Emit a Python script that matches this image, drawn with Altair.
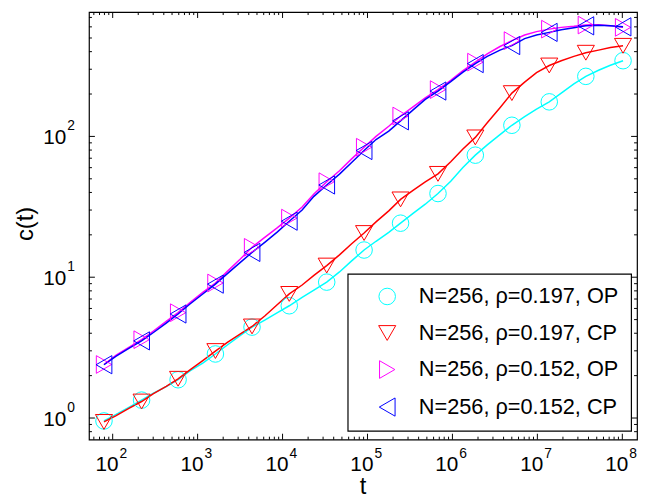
import altair as alt
import pandas as pd

# ---------------- data ----------------
t = [79, 110, 155, 219, 302, 427, 589, 813, 1150, 1620, 2240, 3160, 4370, 6170, 8710,
     12000, 17000, 23400, 33100, 46800, 64600, 91200, 126000, 178000, 245000, 347000,
     479000, 676000, 955000, 1.32e6, 1.86e6, 2.57e6, 3.63e6, 5.01e6, 7.08e6, 9.77e6,
     1.38e7, 1.91e7, 2.69e7, 3.72e7, 5.25e7, 7.24e7, 1.02e8]

op_197 = [0.953, 1.06, 1.19, 1.34, 1.50, 1.67, 1.87, 2.16, 2.45, 2.85, 3.30, 3.85, 4.42,
          4.95, 5.6, 6.27, 7.2, 8.1, 9.23, 10.9, 13.0, 15.6, 18.0, 20.8, 24.2, 28.5, 33.0,
          39.3, 48, 60, 73.6, 87, 103, 120, 138, 156, 176, 203, 236, 267, 295, 320, 345]
cp_197 = [0.938, 1.04, 1.17, 1.31, 1.49, 1.68, 1.90, 2.20, 2.56, 2.99, 3.45, 3.95, 4.47,
          5.3, 6.4, 7.61, 8.8, 10.3, 12.1, 14.4, 17.2, 20.6, 24.7, 29.6, 35.7, 41.5, 47.5,
          54.2, 66, 81, 98.4, 125, 160, 203, 243, 284, 319, 345, 370, 393, 410, 428, 440]
op_152 = [2.40, 2.80, 3.18, 3.60, 4.15, 4.85, 5.60, 6.6, 7.8, 9.1, 11.0, 13.4, 16.3, 19.2,
          22.5, 26.3, 31.5, 39, 47.7, 57, 69, 83.8, 100, 118, 139.6, 163, 188, 215, 250,
          292, 337, 385, 435, 479, 525, 555, 578, 595, 605, 618, 622, 612, 595]
cp_152 = [2.39, 2.75, 3.12, 3.53, 4.05, 4.72, 5.48, 6.45, 7.6, 8.93, 10.6, 12.7, 15.0, 17.7,
          21.0, 25.0, 30.0, 37.5, 45.2, 54, 65, 79.4, 95, 109, 129, 155, 183, 210, 245, 285,
          329, 370, 410, 442, 495, 525, 548, 572, 592, 610, 615, 612, 600]

series_names = ["N=256, \u03c1=0.197, OP", "N=256, \u03c1=0.197, CP",
                "N=256, \u03c1=0.152, OP", "N=256, \u03c1=0.152, CP"]
series_values = [op_197, cp_197, op_152, cp_152]
colors = ["#00FFFF", "#FF0000", "#FF00FF", "#0000FF"]
shapes = ["circle", "triangle-down", "triangle-right", "triangle-left"]
marker_every = 3

x_major = [1e2, 1e3, 1e4, 1e5, 1e6, 1e7, 1e8]
x_exp = ["2", "3", "4", "5", "6", "7", "8"]
y_major = [1e0, 1e1, 1e2]
y_exp = ["0", "1", "2"]

x_domain = [52.6, 1.49e8]
y_domain = [0.702, 764]

# ---------------- tables ----------------
rows = []
for name, vals in zip(series_names, series_values):
    for i, (tt, v) in enumerate(zip(t, vals)):
        rows.append({"series": name, "t": tt, "c": v, "marker": i % marker_every == 0})
df = pd.DataFrame(rows)

x_minor = [m * 10 ** k for k in range(1, 9) for m in range(2, 10)
           if x_domain[0] <= m * 10 ** k <= x_domain[1]]
y_minor = [m * 10.0 ** k for k in range(-1, 3) for m in range(2, 10)
           if y_domain[0] <= m * 10.0 ** k <= y_domain[1]]

W, H = 555, 433
FONT = "Liberation Sans"

xs = alt.Scale(type="log", domain=x_domain, nice=False)
ys = alt.Scale(type="log", domain=y_domain, nice=False)
X = alt.X("t:Q", scale=xs, axis=None)
Y = alt.Y("c:Q", scale=ys, axis=None)

layers = []
for name, col in zip(series_names, colors):
    layers.append(
        alt.Chart(df[df.series == name]).mark_line(strokeWidth=1.5, color=col, clip=True)
        .encode(x=X, y=Y, order="t:Q")
    )

leg = alt.Legend(title=None, orient="none", legendX=262, legendY=265,
                 fillColor="white", strokeColor="black", padding=12,
                 labelFontSize=22, labelFont=FONT, labelColor="black",
                 symbolSize=230, symbolStrokeWidth=1, symbolOffset=17,
                 labelOffset=21, rowPadding=15, labelLimit=400)

points = alt.Chart(df[df.marker]).mark_point(filled=False, strokeWidth=1, opacity=1).encode(
    x=X, y=Y,
    color=alt.Color("series:N", scale=alt.Scale(domain=series_names, range=colors), legend=leg),
    shape=alt.Shape("series:N", scale=alt.Scale(domain=series_names, range=shapes), legend=leg),
    size=alt.Size("series:N", scale=alt.Scale(domain=series_names, range=[280, 340, 340, 340]),
                  legend=None),
)
layers.append(points)

# ---------------- ticks (inward, all four sides) ----------------
def xticks(vals, length):
    d = pd.DataFrame({"t": vals})
    bottom = alt.Chart(d).mark_rule(color="black", strokeWidth=1).encode(
        x=alt.X("t:Q", scale=xs, axis=None), y=alt.value(H), y2=alt.value(H - length))
    top = alt.Chart(d).mark_rule(color="black", strokeWidth=1).encode(
        x=alt.X("t:Q", scale=xs, axis=None), y=alt.value(0), y2=alt.value(length))
    return [bottom, top]

def yticks(vals, length):
    d = pd.DataFrame({"c": vals})
    left = alt.Chart(d).mark_rule(color="black", strokeWidth=1).encode(
        y=alt.Y("c:Q", scale=ys, axis=None), x=alt.value(0), x2=alt.value(length))
    right = alt.Chart(d).mark_rule(color="black", strokeWidth=1).encode(
        y=alt.Y("c:Q", scale=ys, axis=None), x=alt.value(W), x2=alt.value(W - length))
    return [left, right]

layers += xticks(x_major, 6) + xticks(x_minor, 3) + yticks(y_major, 6) + yticks(y_minor, 3)

# ---------------- tick labels 10^k ----------------
xl = pd.DataFrame({"t": x_major, "e": x_exp, "b": ["10"] * len(x_major)})
layers.append(alt.Chart(xl).mark_text(align="right", baseline="alphabetic", dx=6,
                                      fontSize=21, font=FONT, color="black").encode(
    x=alt.X("t:Q", scale=xs, axis=None), y=alt.value(H + 32), text="b:N"))
layers.append(alt.Chart(xl).mark_text(align="left", baseline="alphabetic", dx=7,
                                      fontSize=14, font=FONT, color="black").encode(
    x=alt.X("t:Q", scale=xs, axis=None), y=alt.value(H + 19), text="e:N"))

yl = pd.DataFrame({"c": y_major, "e": y_exp, "b": ["10"] * len(y_major)})
layers.append(alt.Chart(yl).mark_text(align="right", baseline="alphabetic", dy=8,
                                      fontSize=21, font=FONT, color="black").encode(
    y=alt.Y("c:Q", scale=ys, axis=None), x=alt.value(-23), text="b:N"))
layers.append(alt.Chart(yl).mark_text(align="left", baseline="alphabetic", dy=-6,
                                      fontSize=14, font=FONT, color="black").encode(
    y=alt.Y("c:Q", scale=ys, axis=None), x=alt.value(-22), text="e:N"))

# ---------------- axis titles ----------------
titles = pd.DataFrame({"xt": ["t"], "yt": ["c(t)"]})
layers.append(alt.Chart(titles).mark_text(align="center", baseline="middle", fontSize=24,
                                          font=FONT, color="black").encode(
    x=alt.value(W / 2), y=alt.value(H + 48), text="xt:N"))
layers.append(alt.Chart(titles).mark_text(align="center", baseline="middle", fontSize=24,
                                          font=FONT, color="black", angle=270).encode(
    x=alt.value(-64), y=alt.value(H / 2 - 2), text="yt:N"))

chart = alt.layer(*layers).resolve_scale(x="shared", y="shared").properties(
    width=W, height=H, autosize="none",
    padding={"left": 82, "top": 1, "right": 2, "bottom": 59},
).configure_view(stroke="black", strokeWidth=1.2).configure_legend(strokeWidth=1.2)

chart.save("out.html", embed_options={"renderer": "svg", "actions": False})
